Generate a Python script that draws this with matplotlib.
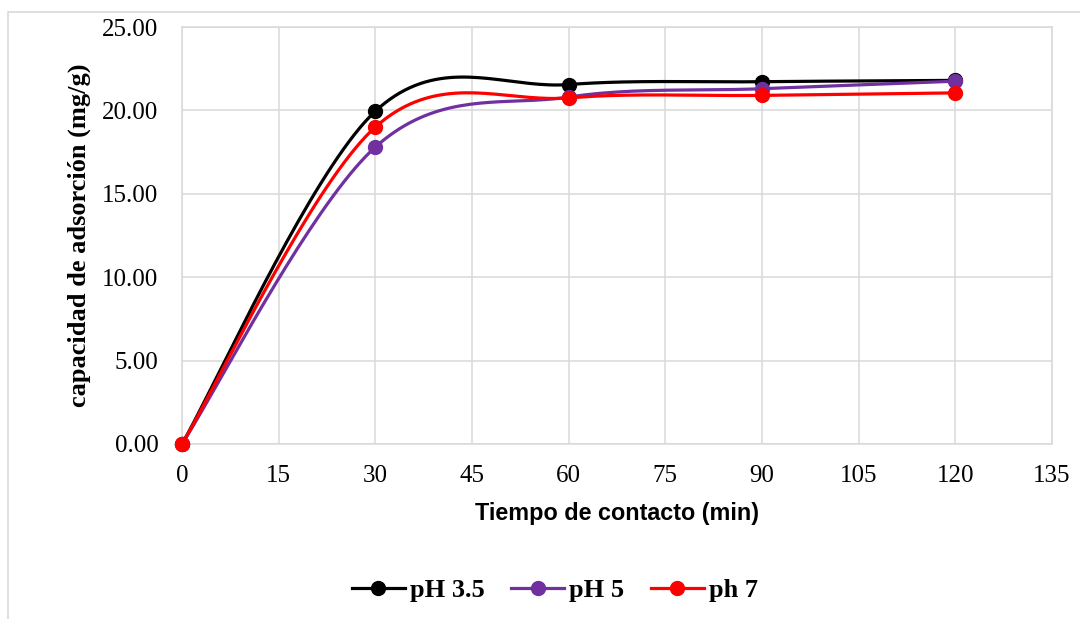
import matplotlib

matplotlib.use("Agg")
import matplotlib.pyplot as plt
import numpy as np
from matplotlib.patches import Rectangle

# data
tiempo = [0, 30, 60, 90, 120]
ph_35 = [0.00, 19.95, 21.55, 21.72, 21.80]
ph_5 = [0.00, 17.80, 20.80, 21.30, 21.75]
ph_7 = [0.00, 19.00, 20.75, 20.90, 21.05]

series = [
    ("pH 3.5", ph_35, "#000000"),
    ("pH 5", ph_5, "#7030A0"),
    ("ph 7", ph_7, "#FF0000"),
]

x_ticks = [0, 15, 30, 45, 60, 75, 90, 105, 120, 135]
y_ticks = [0, 5, 10, 15, 20, 25]

SERIF = "Liberation Serif"
SANS = "Liberation Sans"


def smooth_curve(xs, ys, steps=40):
    """Excel-like smoothed line: cubic Bezier segments with Catmull-Rom controls."""
    pts = np.column_stack([xs, ys]).astype(float)
    padded = np.vstack([pts[0], pts, pts[-1]])
    t = np.linspace(0, 1, steps)[:, None]
    out = []
    for i in range(len(pts) - 1):
        p0, p1, p2, p3 = padded[i], padded[i + 1], padded[i + 2], padded[i + 3]
        c1 = p1 + (p2 - p0) / 6
        c2 = p2 - (p3 - p1) / 6
        seg = ((1 - t) ** 3) * p1 + 3 * ((1 - t) ** 2) * t * c1 + 3 * (1 - t) * t ** 2 * c2 + t ** 3 * p2
        out.append(seg if i == 0 else seg[1:])
    curve = np.vstack(out)
    return curve[:, 0], curve[:, 1]


fig = plt.figure(figsize=(10.8, 6.19), dpi=100)
fig.patches.append(
    Rectangle((8 / 1080, -0.05), 1.2, 1 - 12 / 619 + 0.05, transform=fig.transFigure,
              fill=False, edgecolor="#D9D9D9", linewidth=1.2)
)
ax = fig.add_axes([182 / 1080, 1 - 444 / 619, 870 / 1080, 417 / 619])

for label, values, color in series:
    sx, sy = smooth_curve(tiempo, values)
    ax.plot(sx, sy, color=color, linewidth=2.3, zorder=3, clip_on=False)
    ax.plot(tiempo, values, linestyle="none", marker="o", markersize=10,
            color=color, zorder=4, clip_on=False)
    ax.plot([], [], color=color, linewidth=2.3, marker="o", markersize=10, label=label)

ax.set_xlim(0, 135)
ax.set_ylim(0, 25)
ax.set_xticks(x_ticks)
ax.set_yticks(y_ticks)
ax.set_yticklabels([f"{v:.2f}" for v in y_ticks])
ax.grid(True, color="#D9D9D9", linewidth=1.1)
ax.set_axisbelow(True)
for spine in ax.spines.values():
    spine.set_color("#D9D9D9")
    spine.set_linewidth(1.1)
ax.tick_params(length=0, labelsize=18, pad=0)
ax.tick_params(axis="x", pad=15)
ax.tick_params(axis="y", pad=17)
for lbl in ax.get_xticklabels() + ax.get_yticklabels():
    lbl.set_fontfamily(SERIF)

ax.set_xlabel("Tiempo de contacto (min)", fontfamily=SANS, fontweight="bold",
              fontsize=16.8, labelpad=11)
ax.set_ylabel("capacidad de adsorción (mg/g)", fontfamily=SERIF, fontweight="bold",
              fontsize=19, labelpad=8)

fig.legend(loc="center", bbox_to_anchor=(555 / 1080, 1 - 590 / 619), ncol=3,
           frameon=False, handlelength=2.0, columnspacing=1.0, handletextpad=0.2,
           prop={"family": SERIF, "weight": "bold", "size": 19})

fig.savefig("out.png", dpi=100, facecolor="white")
plt.close(fig)
